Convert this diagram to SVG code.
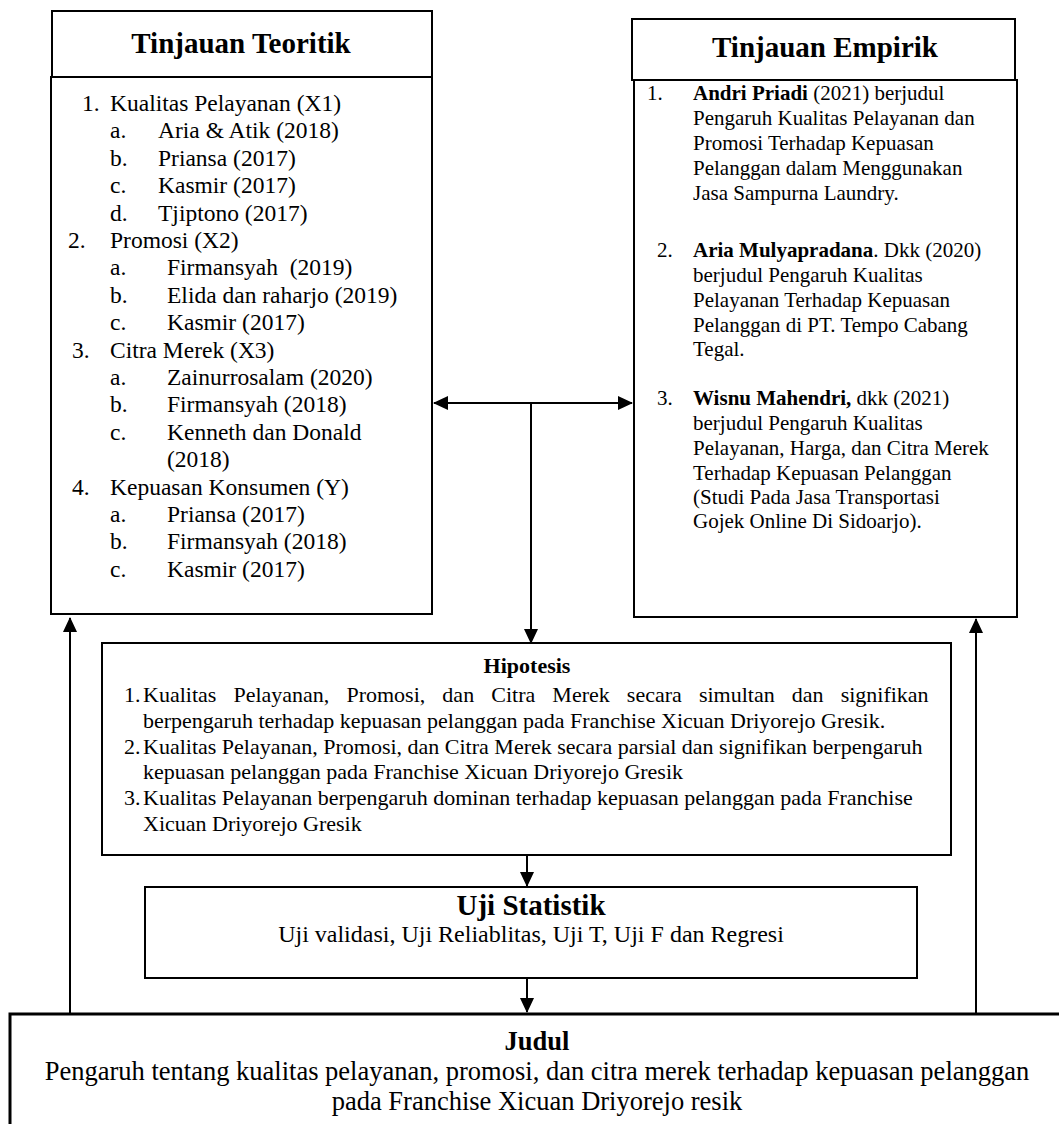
<svg xmlns="http://www.w3.org/2000/svg" width="1059" height="1124" viewBox="0 0 1059 1124">
<style>
.box{fill:#fff;stroke:#000;stroke-width:2}
.t{font-family:"Liberation Serif","Times New Roman",serif;fill:#000}
.b{font-weight:bold}
.l{font-size:23.5px}
.r{font-size:21px}
.h{font-size:22px}
.conn{stroke:#000;stroke-width:2;fill:none}
</style>
<defs>
<marker id="ah" viewBox="0 0 15 14" refX="14" refY="7" markerWidth="15" markerHeight="14" markerUnits="userSpaceOnUse" orient="auto-start-reverse">
<path d="M0,0 L15,7 L0,14 z" fill="#000"/>
</marker>
</defs>
<rect width="1059" height="1124" fill="#fff"/>

<g id="teoritik-header">
<rect class="box" x="52" y="11" width="380" height="66"/>
<text class="t b" x="241" y="53" font-size="29" text-anchor="middle">Tinjauan Teoritik</text>
</g>

<g id="teoritik-list">
<rect class="box" x="51" y="77" width="381" height="537"/>
<g class="t l">
<text x="82" y="111">1.</text><text x="110" y="111">Kualitas Pelayanan (X1)</text>
<text x="110" y="138.4">a.</text><text x="158" y="138.4">Aria &amp; Atik (2018)</text>
<text x="110" y="165.8">b.</text><text x="158" y="165.8">Priansa (2017)</text>
<text x="110" y="193.2">c.</text><text x="158" y="193.2">Kasmir (2017)</text>
<text x="110" y="220.6">d.</text><text x="158" y="220.6">Tjiptono (2017)</text>
<text x="68" y="248">2.</text><text x="110" y="248">Promosi (X2)</text>
<text x="110" y="275.4">a.</text><text x="167" y="275.4" xml:space="preserve">Firmansyah  (2019)</text>
<text x="110" y="302.8">b.</text><text x="167" y="302.8">Elida dan raharjo (2019)</text>
<text x="110" y="330.2">c.</text><text x="167" y="330.2">Kasmir (2017)</text>
<text x="72" y="357.6">3.</text><text x="110" y="357.6">Citra Merek (X3)</text>
<text x="110" y="385">a.</text><text x="167" y="385">Zainurrosalam (2020)</text>
<text x="110" y="412.4">b.</text><text x="167" y="412.4">Firmansyah (2018)</text>
<text x="110" y="439.8">c.</text><text x="167" y="439.8">Kenneth dan Donald</text>
<text x="167" y="467.2">(2018)</text>
<text x="72" y="494.6">4.</text><text x="110" y="494.6">Kepuasan Konsumen (Y)</text>
<text x="110" y="522">a.</text><text x="167" y="522">Priansa (2017)</text>
<text x="110" y="549.4">b.</text><text x="167" y="549.4">Firmansyah (2018)</text>
<text x="110" y="576.8">c.</text><text x="167" y="576.8">Kasmir (2017)</text>
</g>
</g>

<g id="empirik-header">
<rect class="box" x="632" y="19" width="383" height="61"/>
<text class="t b" x="825" y="57" font-size="29" text-anchor="middle">Tinjauan Empirik</text>
</g>

<g id="empirik-list">
<rect class="box" x="634" y="80" width="383" height="537"/>
<g class="t r">
<text x="647" y="100">1.</text>
<text x="693" y="100"><tspan class="b">Andri Priadi</tspan> (2021) berjudul</text>
<text x="693" y="125">Pengaruh Kualitas Pelayanan dan</text>
<text x="693" y="150">Promosi Terhadap Kepuasan</text>
<text x="693" y="175">Pelanggan dalam Menggunakan</text>
<text x="693" y="200">Jasa Sampurna Laundry.</text>
<text x="657" y="257">2.</text>
<text x="693" y="257"><tspan class="b">Aria Mulyapradana</tspan>. Dkk (2020)</text>
<text x="693" y="282">berjudul Pengaruh Kualitas</text>
<text x="693" y="307">Pelayanan Terhadap Kepuasan</text>
<text x="693" y="332">Pelanggan di PT. Tempo Cabang</text>
<text x="693" y="356">Tegal.</text>
<text x="657" y="405">3.</text>
<text x="693" y="405"><tspan class="b">Wisnu Mahendri,</tspan> dkk (2021)</text>
<text x="693" y="430">berjudul Pengaruh Kualitas</text>
<text x="693" y="455">Pelayanan, Harga, dan Citra Merek</text>
<text x="693" y="480">Terhadap Kepuasan Pelanggan</text>
<text x="693" y="504">(Studi Pada Jasa Transportasi</text>
<text x="693" y="528">Gojek Online Di Sidoarjo).</text>
</g>
</g>

<g id="hipotesis">
<rect class="box" x="102" y="643" width="849" height="212"/>
<g class="t h">
<text class="b" x="527" y="673" text-anchor="middle">Hipotesis</text>
<text x="124" y="702">1.</text>
<text x="143" y="702" word-spacing="11.6">Kualitas Pelayanan, Promosi, dan Citra Merek secara simultan dan signifikan</text>
<text x="143" y="728">berpengaruh terhadap kepuasan pelanggan pada Franchise Xicuan Driyorejo Gresik.</text>
<text x="124" y="754">2.</text>
<text x="143" y="754">Kualitas Pelayanan, Promosi, dan Citra Merek secara parsial dan signifikan berpengaruh</text>
<text x="143" y="779">kepuasan pelanggan pada Franchise Xicuan Driyorejo Gresik</text>
<text x="124" y="805">3.</text>
<text x="143" y="805">Kualitas Pelayanan berpengaruh dominan terhadap kepuasan pelanggan pada Franchise</text>
<text x="143" y="831">Xicuan Driyorejo Gresik</text>
</g>
</g>

<g id="uji-statistik">
<rect class="box" x="145" y="887" width="772" height="91"/>
<text class="t b" x="531" y="915" font-size="29" text-anchor="middle">Uji Statistik</text>
<text class="t" x="531" y="942" font-size="24" text-anchor="middle">Uji validasi, Uji Reliablitas, Uji T, Uji F dan Regresi</text>
</g>

<g id="judul">
<rect x="10" y="1014" width="1070" height="130" fill="#fff" stroke="#000" stroke-width="3"/>
<text class="t b" x="537" y="1050" font-size="26.5" text-anchor="middle">Judul</text>
<text class="t" x="537" y="1080" font-size="26.5" text-anchor="middle">Pengaruh tentang kualitas pelayanan, promosi, dan citra merek terhadap kepuasan pelanggan</text>
<text class="t" x="537" y="1110" font-size="26.5" text-anchor="middle">pada Franchise Xicuan Driyorejo resik</text>
</g>

<g id="connectors">
<line class="conn" x1="434" y1="403" x2="632" y2="403" marker-start="url(#ah)" marker-end="url(#ah)"/>
<line class="conn" x1="531" y1="403" x2="531" y2="643" marker-end="url(#ah)"/>
<line class="conn" x1="527" y1="856" x2="527" y2="886" marker-end="url(#ah)"/>
<line class="conn" x1="527" y1="979" x2="527" y2="1012" marker-end="url(#ah)"/>
<line class="conn" x1="70" y1="1013" x2="70" y2="618" marker-end="url(#ah)"/>
<line class="conn" x1="976" y1="1013" x2="976" y2="619" marker-end="url(#ah)"/>
</g>
</svg>
